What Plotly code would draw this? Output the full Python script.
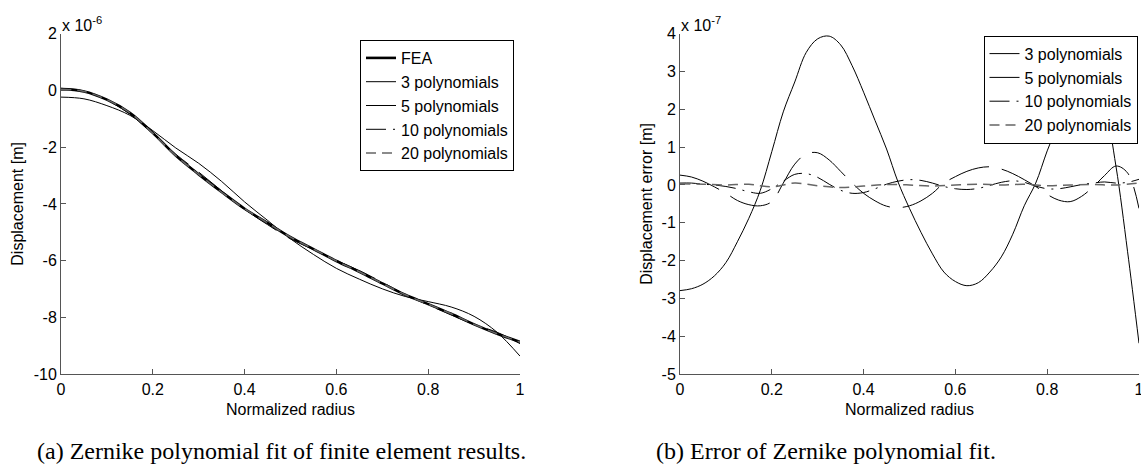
import plotly.graph_objects as go

W, H = 1141, 467

# ---------------- data (left panel, units of 1e-6 m) ----------------
x_fit = [0.00, 0.05, 0.10, 0.15, 0.20, 0.25, 0.30, 0.35, 0.40, 0.45, 0.50,
         0.55, 0.60, 0.65, 0.70, 0.75, 0.80, 0.85, 0.90, 0.95, 1.00]
fea = [0.04, -0.04, -0.33, -0.79, -1.50, -2.30, -2.96, -3.58, -4.17, -4.67, -5.17,
       -5.59, -6.01, -6.39, -6.80, -7.20, -7.53, -7.87, -8.24, -8.57, -8.86]
fit3 = [-0.24, -0.30, -0.54, -0.88, -1.42, -2.03, -2.57, -3.21, -3.93, -4.58, -5.23,
        -5.78, -6.27, -6.65, -6.99, -7.26, -7.44, -7.63, -7.96, -8.52, -9.36]
fit5 = [0.07, -0.03, -0.35, -0.84, -1.54, -2.25, -2.88, -3.54, -4.19, -4.73, -5.23,
        -5.61, -5.99, -6.35, -6.76, -7.19, -7.56, -7.91, -8.25, -8.52, -8.92]
fit10 = [0.05, -0.04, -0.33, -0.81, -1.51, -2.27, -2.94, -3.59, -4.19, -4.67, -5.16,
         -5.59, -6.02, -6.40, -6.79, -7.19, -7.54, -7.88, -8.24, -8.57, -8.85]
fit20 = [0.04, -0.04, -0.33, -0.79, -1.51, -2.30, -2.96, -3.59, -4.17, -4.67, -5.17,
         -5.59, -6.01, -6.39, -6.80, -7.20, -7.53, -7.87, -8.24, -8.57, -8.86]

# ---------------- data (right panel, units of 1e-7 m) ----------------
x_err = [0.000, 0.025, 0.050, 0.075, 0.100, 0.125, 0.150, 0.175, 0.200, 0.225,
         0.250, 0.275, 0.300, 0.325, 0.350, 0.375, 0.400, 0.425, 0.450, 0.475,
         0.500, 0.525, 0.550, 0.575, 0.600, 0.625, 0.650, 0.675, 0.700, 0.725,
         0.750, 0.775, 0.800, 0.825, 0.850, 0.875, 0.900, 0.925, 0.950, 0.975, 1.000]
err3 = [-2.79, -2.74, -2.62, -2.40, -2.05, -1.50, -0.88, -0.14, 0.88, 1.93,
        2.72, 3.50, 3.86, 3.93, 3.70, 3.15, 2.45, 1.70, 0.95, 0.08,
        -0.62, -1.25, -1.82, -2.30, -2.55, -2.66, -2.58, -2.30, -1.90, -1.30,
        -0.55, 0.05, 0.90, 1.65, 2.40, 2.85, 2.80, 2.10, 0.48, -1.75, -4.18]
err5 = [0.26, 0.21, 0.10, -0.05, -0.22, -0.41, -0.52, -0.55, -0.44, 0.05,
        0.55, 0.82, 0.85, 0.66, 0.36, 0.05, -0.22, -0.42, -0.56, -0.60,
        -0.55, -0.42, -0.22, 0.05, 0.22, 0.36, 0.45, 0.48, 0.42, 0.30,
        0.14, -0.04, -0.25, -0.40, -0.44, -0.30, -0.05, 0.25, 0.50, 0.32, -0.62]
err10 = [0.05, 0.05, 0.02, 0.00, -0.04, -0.10, -0.18, -0.22, -0.10, 0.10,
         0.28, 0.30, 0.20, 0.02, -0.14, -0.22, -0.20, -0.10, 0.02, 0.10,
         0.14, 0.12, 0.05, -0.04, -0.10, -0.12, -0.09, -0.01, 0.07, 0.11,
         0.07, -0.03, -0.10, -0.10, -0.05, 0.01, 0.05, 0.08, 0.05, 0.07, 0.15]
x_err20 = [0.00, 0.05, 0.10, 0.15, 0.20, 0.25, 0.30, 0.35, 0.40, 0.45, 0.50,
           0.55, 0.60, 0.65, 0.70, 0.75, 0.80, 0.85, 0.90, 0.95, 1.00]
err20 = [0.03, 0.02, 0.00, 0.02, -0.05, 0.05, -0.02, -0.07, -0.03, 0.01, 0.00,
         -0.03, 0.00, 0.02, 0.00, 0.02, -0.02, 0.00, 0.01, 0.00, 0.05]

x_ticks = [0, 0.2, 0.4, 0.6, 0.8, 1]
x_ticktext = ["0", "0.2", "0.4", "0.6", "0.8", "1"]
yl_ticks = [-10, -8, -6, -4, -2, 0, 2]
yl_ticktext = ["-10", "-8", "-6", "-4", "-2", "0", "2"]
yr_ticks = [-5, -4, -3, -2, -1, 0, 1, 2, 3, 4]
yr_ticktext = ["-5", "-4", "-3", "-2", "-1", "0", "1", "2", "3", "4"]

names = ["FEA", "3 polynomials", "5 polynomials", "10 polynomials", "20 polynomials"]

SANS = "Liberation Sans, Arial, Helvetica, sans-serif"
SERIF = "Liberation Serif, Times New Roman, serif"

styles = {
    "FEA": dict(color="black", width=2.6, dash="solid"),
    "3 polynomials": dict(color="black", width=1, dash="solid"),
    "5 polynomials": dict(color="black", width=1, dash="42px,13px"),
    "10 polynomials": dict(color="black", width=1, dash="20px,7px,2px,7px"),
    "20 polynomials": dict(color="#666666", width=1.5, dash="10px,6px"),
}

fig = go.Figure()

left_series = [(x_fit, fea), (x_fit, fit3), (x_fit, fit5), (x_fit, fit10), (x_fit, fit20)]
for name, (xs, ys) in zip(names, left_series):
    fig.add_trace(go.Scatter(x=xs, y=ys, mode="lines", name=name, line=styles[name],
                             line_shape="spline", xaxis="x", yaxis="y", legend="legend"))

right_series = [(x_err, err3), (x_err, err5), (x_err, err10), (x_err20, err20)]
for name, (xs, ys) in zip(names[1:], right_series):
    fig.add_trace(go.Scatter(x=xs, y=ys, mode="lines", name=name, line=styles[name],
                             line_shape="spline", xaxis="x2", yaxis="y2", legend="legend2"))

def px_x(p):
    return p / W

def px_y(p):
    return 1 - p / H

ydom = [px_y(374.3), px_y(33.5)]

axis_common = dict(showgrid=False, zeroline=False, showline=True, linecolor="#555555",
                   linewidth=1, ticks="inside", ticklen=5, tickcolor="#555555",
                   tickfont=dict(family=SANS, size=16, color="black"),
                   ticklabeloverflow="allow",
                   mirror=False, automargin=False)

fig.update_layout(
    width=W, height=H,
    margin=dict(l=0, r=0, t=0, b=0),
    template="none",
    paper_bgcolor="white", plot_bgcolor="white",
    font=dict(family=SANS, size=16, color="black"),
    xaxis=dict(domain=[px_x(61), px_x(520)], range=[0, 1], tickvals=x_ticks,
               ticktext=x_ticktext, anchor="y",
               title=dict(text="Normalized radius", font=dict(family=SANS, size=16), standoff=7),
               **axis_common),
    yaxis=dict(domain=ydom, range=[-10, 2], tickvals=yl_ticks, ticktext=yl_ticktext,
               anchor="x",
               title=dict(text="Displacement [m]", font=dict(family=SANS, size=16), standoff=6),
               **axis_common),
    xaxis2=dict(domain=[px_x(680), px_x(1139)], range=[0, 1], tickvals=x_ticks,
                ticktext=x_ticktext, anchor="y2",
                title=dict(text="Normalized radius", font=dict(family=SANS, size=16), standoff=7),
                **axis_common),
    yaxis2=dict(domain=ydom, range=[-5, 4], tickvals=yr_ticks, ticktext=yr_ticktext,
                anchor="x2",
                title=dict(text="Displacement error [m]", font=dict(family=SANS, size=16), standoff=4),
                **axis_common),
    legend=dict(x=px_x(514), y=px_y(40), xanchor="right", yanchor="top",
                bgcolor="white", bordercolor="black", borderwidth=1,
                font=dict(family=SANS, size=16, color="black"), tracegroupgap=0),
    legend2=dict(x=px_x(1137.5), y=px_y(35.7), xanchor="right", yanchor="top",
                 bgcolor="white", bordercolor="black", borderwidth=1,
                 font=dict(family=SANS, size=16, color="black"), tracegroupgap=0),
    annotations=[
        dict(text="x 10<sup>-6</sup>", x=px_x(60), y=px_y(24), xref="paper", yref="paper",
             xanchor="left", yanchor="middle", showarrow=False,
             font=dict(family=SANS, size=16, color="black")),
        dict(text="x 10<sup>-7</sup>", x=px_x(679), y=px_y(24), xref="paper", yref="paper",
             xanchor="left", yanchor="middle", showarrow=False,
             font=dict(family=SANS, size=16, color="black")),
        dict(text="(a) Zernike polynomial fit of finite element results.",
             x=px_x(34.5), y=px_y(451), xref="paper", yref="paper",
             xanchor="left", yanchor="middle", showarrow=False,
             font=dict(family=SERIF, size=24, color="black")),
        dict(text="(b) Error of Zernike polynomial fit.",
             x=px_x(653.5), y=px_y(451), xref="paper", yref="paper",
             xanchor="left", yanchor="middle", showarrow=False,
             font=dict(family=SERIF, size=24, color="black")),
    ],
)

fig.write_html("out.html")
